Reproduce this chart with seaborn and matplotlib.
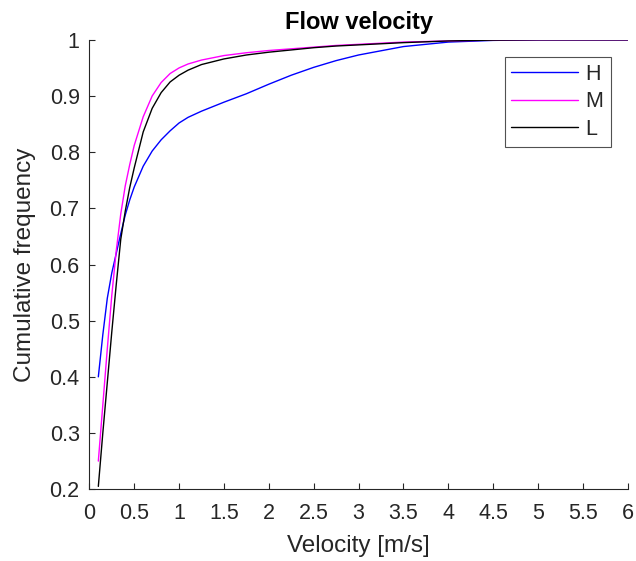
import matplotlib
matplotlib.use("Agg")
import matplotlib.pyplot as plt
import seaborn as sns
import pandas as pd
import numpy as np
from matplotlib.ticker import FuncFormatter

velocity = [0.1, 0.15, 0.2, 0.25, 0.3, 0.35, 0.4, 0.45, 0.5, 0.6, 0.7, 0.8, 0.9, 1.0, 1.1, 1.25,
            1.5, 1.75, 2.0, 2.25, 2.5, 2.75, 3.0, 3.5, 4.0, 4.5, 5.0, 5.5, 6.0]
freq_H = [0.40, 0.475, 0.54, 0.585, 0.62, 0.655, 0.688, 0.715, 0.738, 0.775, 0.802, 0.822, 0.838, 0.852, 0.862, 0.873,
          0.889, 0.904, 0.921, 0.937, 0.951, 0.963, 0.973, 0.988, 0.996, 0.999, 1.0, 1.0, 1.0]
freq_M = [0.25, 0.35, 0.45, 0.545, 0.625, 0.69, 0.74, 0.778, 0.812, 0.863, 0.9, 0.924, 0.94, 0.95, 0.957, 0.964,
          0.972, 0.977, 0.981, 0.984, 0.987, 0.99, 0.992, 0.996, 0.998, 0.9995, 1.0, 1.0, 1.0]
freq_L = [0.205, 0.30, 0.39, 0.48, 0.565, 0.645, 0.695, 0.737, 0.772, 0.836, 0.878, 0.906, 0.925, 0.937, 0.946, 0.956,
          0.966, 0.973, 0.978, 0.982, 0.986, 0.989, 0.991, 0.995, 0.998, 0.9995, 1.0, 1.0, 1.0]
series = ["H", "M", "L"]
colors = ["#0000ff", "#ff00ff", "#000000"]

df = pd.concat([
    pd.DataFrame({"Velocity": velocity, "Freq": vals, "Class": name})
    for name, vals in zip(series, [freq_H, freq_M, freq_L])
])

sns.set_style("white")
plt.rcParams["font.family"] = ["Liberation Sans", "DejaVu Sans"]

fig = plt.figure(figsize=(6.36, 5.61), dpi=100)
ax = fig.add_axes([0.1405, 0.128, 0.8465, 0.801])

sns.lineplot(data=df, x="Velocity", y="Freq", hue="Class", hue_order=series,
             palette=colors, linewidth=1.0, ax=ax, legend=True)

ax.set_xlim(0, 6)
ax.set_ylim(0.2, 1.0)
ax.set_xticks(np.arange(0, 6.01, 0.5))
ax.set_yticks(np.arange(0.2, 1.001, 0.1))
ax.xaxis.set_major_formatter(FuncFormatter(lambda v, p: f"{v:g}"))
ax.yaxis.set_major_formatter(FuncFormatter(lambda v, p: f"{round(v, 1):g}"))
ax.tick_params(bottom=True, left=True, direction="in", length=4, width=0.8,
               colors="#262626", labelsize=15.5, labelcolor="#262626")
ax.tick_params(axis="x", pad=10)
ax.tick_params(axis="y", pad=7)
for s in ["top", "right"]:
    ax.spines[s].set_visible(False)
for s in ["left", "bottom"]:
    ax.spines[s].set_color("#262626")
    ax.spines[s].set_linewidth(0.8)

ax.set_xlabel("Velocity [m/s]", fontsize=17.5, color="#262626", labelpad=8)
ax.set_ylabel("Cumulative frequency", fontsize=17.5, color="#262626", labelpad=10)
ax.set_title("Flow velocity", fontsize=17, fontweight="bold", color="black", pad=8)

leg = ax.legend(loc="upper right", bbox_to_anchor=(0.968, 0.962), fontsize=15.5,
                frameon=True, fancybox=False, edgecolor="#262626",
                handlelength=3.1, borderpad=0.32, labelspacing=0.3,
                handletextpad=0.35, borderaxespad=0)
leg.get_frame().set_linewidth(0.8)

fig.savefig("out.png", dpi=100, facecolor="white")
